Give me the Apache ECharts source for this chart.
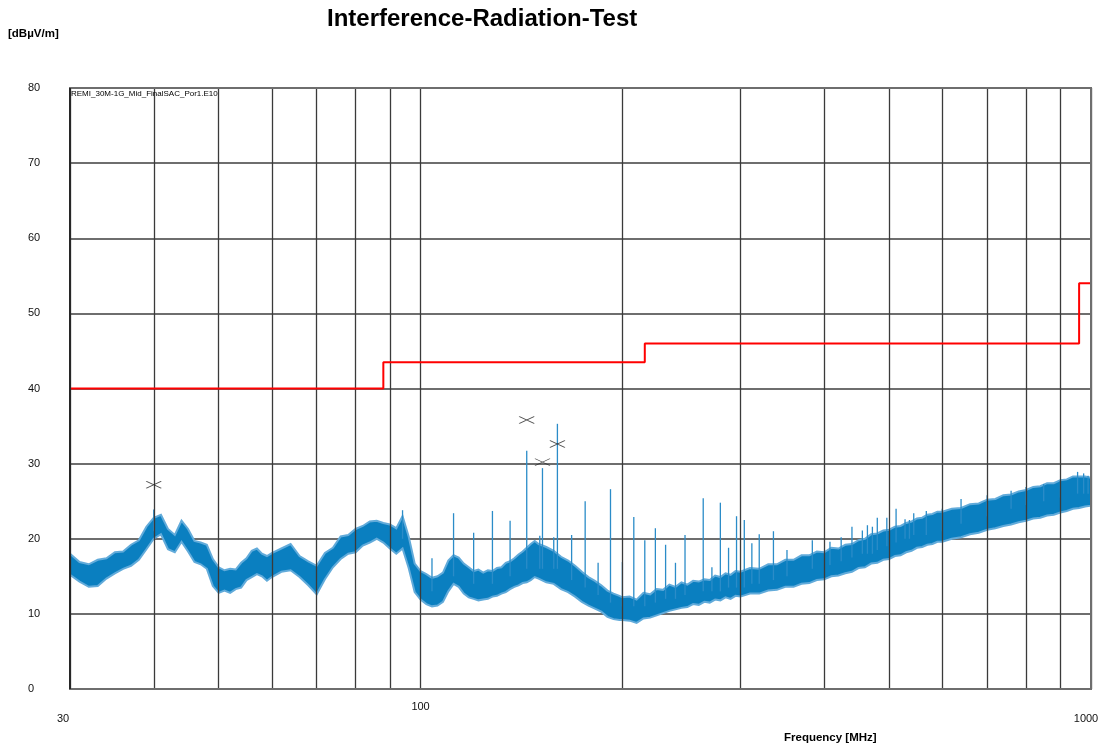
<!DOCTYPE html>
<html>
<head>
<meta charset="utf-8">
<script src="https://cdn.jsdelivr.net/npm/echarts@6/dist/echarts.min.js"></script>
<style>
  html, body { margin: 0; padding: 0; background: #ffffff; }
  #chart { width: 1109px; height: 747px; }
</style>
</head>
<body>
<div id="chart"></div>
<script>
const FONT = '"Liberation Sans", Arial, sans-serif';

// Peak scan: sweep frequency (MHz) with the lower and upper edge of the noisy trace (dBµV/m)
const bandFreq = [
  30, 31, 32, 33, 34, 35, 36, 37, 38, 39, 40, 41, 42, 43, 44, 45, 46, 47, 48, 49,
  50, 51, 52, 53, 54, 55, 56, 57, 58, 59, 60, 62, 64, 66, 68, 70, 72, 74, 76, 78,
  80, 82, 84, 86, 88, 90, 92, 94, 96, 98, 100,
  102, 104, 106, 108, 110, 112, 114, 116, 118, 120, 122, 124, 126, 128, 130, 132, 134, 136, 138, 140,
  142, 144, 146, 148, 150, 154, 158, 162, 166, 170, 174, 178, 182, 186, 190, 194, 198, 200,
  205, 210, 215, 220, 225, 230, 235, 240, 245, 250, 255, 260, 265, 270, 275, 280, 285, 290, 295, 300,
  310, 320, 330, 340, 350, 360, 370, 380, 390, 400, 410, 420, 430, 440, 450, 460, 470, 480, 490, 500,
  510, 520, 530, 540, 550, 560, 570, 580, 590, 600, 620, 640, 660, 680, 700, 720, 740, 760, 780, 800,
  820, 840, 860, 880, 900, 920, 940, 960, 980, 1000
];
const bandHigh = [
  18.0, 16.9, 16.6, 17.2, 17.4, 18.2, 18.3, 19.2, 19.8, 21.6, 22.8, 23.2, 21.3, 20.5, 22.4, 21.3, 19.7, 19.5, 19.2, 17.3,
  16.2, 15.8, 16.0, 15.9, 16.8, 17.4, 18.4, 18.7, 18.0, 17.7, 18.1, 18.7, 19.3, 17.7, 17.0, 16.4, 18.1, 18.8, 20.3, 20.5,
  21.3, 21.7, 22.3, 22.4, 22.1, 21.9, 21.4, 23.0, 20.3, 16.7, 15.7,
  15.3, 14.8, 15.0, 15.5, 17.1, 17.8, 17.5, 16.7, 16.2, 15.7, 15.9, 15.5, 15.8, 15.7, 16.1, 16.2, 16.8, 17.0, 17.4, 17.9,
  18.3, 18.8, 19.3, 19.7, 19.3, 18.9, 18.4, 17.6, 17.1, 16.4, 15.6, 14.9, 14.4, 13.8, 13.1, 12.7, 12.4, 12.2,
  12.3, 11.9, 12.8, 12.6, 13.3, 13.2, 13.9, 13.6, 14.2, 13.9, 14.4, 14.3, 14.6, 14.5, 15.1, 14.9, 15.4, 15.2, 15.7, 15.6,
  16.1, 16.0, 16.6, 16.6, 17.2, 17.2, 17.8, 17.8, 18.3, 18.2, 18.8, 18.7, 19.2, 19.3, 19.8, 20.0, 20.6, 20.7, 21.1, 21.2,
  21.6, 21.7, 22.1, 22.3, 22.7, 22.8, 23.2, 23.3, 23.6, 23.6, 24.0, 24.1, 24.6, 24.7, 25.2, 25.3, 25.8, 25.9, 26.3, 26.5,
  26.9, 27.0, 27.4, 27.4, 27.8, 27.9, 28.3, 28.3, 28.3, 28.1
];
const bandLow = [
  15.2, 14.3, 13.6, 13.7, 14.7, 15.4, 16.0, 16.4, 17.2, 18.6, 20.0, 20.6, 18.6, 18.2, 19.6, 18.3, 16.9, 16.6, 16.0, 13.7,
  12.8, 13.1, 12.8, 13.3, 13.5, 14.5, 14.9, 15.3, 15.0, 14.4, 14.9, 15.6, 15.8, 14.9, 13.8, 12.6, 14.6, 16.2, 17.3, 18.0,
  18.2, 19.1, 19.5, 20.0, 19.5, 18.7, 18.0, 18.7, 16.1, 12.9, 11.9,
  11.3, 11.0, 11.1, 11.6, 13.0, 14.0, 13.6, 12.7, 12.2, 12.0, 11.8, 11.9, 12.0, 12.3, 12.4, 12.7, 12.9, 13.3, 13.6, 13.8,
  14.1, 14.2, 14.5, 14.9, 14.7, 14.2, 14.0, 13.3, 12.9, 12.3, 11.6, 11.1, 10.7, 10.3, 9.6, 9.3, 9.2, 9.2,
  9.1, 8.8, 9.4, 9.5, 9.8, 10.1, 10.4, 10.6, 10.8, 10.9, 11.3, 11.2, 11.6, 11.5, 11.9, 11.8, 12.2, 12.0, 12.4, 12.3,
  12.7, 12.7, 13.1, 13.2, 13.6, 13.6, 14.0, 14.1, 14.5, 14.6, 15.0, 15.1, 15.4, 15.6, 16.1, 16.2, 16.7, 16.8, 17.2, 17.3,
  17.7, 17.8, 18.2, 18.4, 18.8, 18.9, 19.2, 19.3, 19.6, 19.6, 20.0, 20.2, 20.6, 20.8, 21.2, 21.4, 21.7, 21.9, 22.2, 22.4,
  22.7, 22.8, 23.1, 23.2, 23.5, 23.7, 24.0, 24.1, 24.3, 24.4
];

// Narrowband emissions (8 MHz harmonics) and noise peaks: frequency, foot and tip of each line
const spikeFreq = [
  40, 94, 104, 112, 120, 128, 136, 144, 150.6, 152, 158, 160, 168, 176, 184, 192, 200, 208, 216, 224,
  232, 240, 248, 264, 272, 280, 288, 296, 304, 312, 320, 336, 352, 384, 408, 424, 440, 456, 464, 472,
  480, 496, 512, 528, 536, 544, 568, 600, 640, 700, 760, 800, 850, 900, 955, 975, 990
];
const spikeBase = [
  21.0, 20.0, 13.0, 15.0, 14.0, 14.0, 15.0, 16.0, 16.0, 16.0, 16.0, 16.0, 14.5, 13.5, 12.5, 11.5, 11.0, 11.0, 11.0, 11.5,
  12.0, 12.0, 12.5, 13.0, 13.0, 13.0, 13.5, 13.5, 13.5, 14.0, 14.0, 14.5, 15.0, 16.0, 16.5, 17.0, 17.5, 18.0, 18.0, 18.0,
  18.5, 19.0, 19.5, 20.0, 20.0, 20.5, 20.5, 21.0, 22.0, 23.0, 24.0, 24.5, 25.0, 25.5, 26.0, 26.0, 26.0
];
const spikeTop = [
  23.9, 23.8, 17.4, 23.4, 20.8, 23.7, 22.4, 31.7, 20.4, 29.4, 20.2, 35.3, 20.5, 25.0, 16.8, 26.6, 16.9, 22.9, 19.8, 21.4,
  19.2, 16.8, 20.5, 25.4, 16.2, 24.8, 18.8, 23.0, 22.5, 19.4, 20.6, 21.0, 18.5, 19.8, 19.6, 20.2, 21.6, 21.1, 21.8, 21.6,
  22.8, 22.8, 24.0, 22.6, 22.5, 23.4, 23.7, 24.0, 25.3, 25.8, 26.4, 26.9, 27.3, 27.7, 28.9, 28.7, 28.4
];

// Final measurement markers
const markerFreq = [40, 144, 152, 160];
const markerLevel = [27.2, 35.8, 30.2, 32.6];

// Limit line
const limitFreq = [30, 88, 88, 216, 216, 960, 960, 1000];
const limitLevel = [40, 40, 43.5, 43.5, 46, 46, 54, 54];

// Axes
const freqGrid = [30, 40, 50, 60, 70, 80, 90, 100, 200, 300, 400, 500, 600, 700, 800, 900, 1000];
const freqTickLabels = ['30', '100', '1000'];
const levelMin = 0, levelMax = 80, levelStep = 10;

const TRACE = '#0a7fc0';

const chart = echarts.init(document.getElementById('chart'), null, { renderer: 'canvas' });

const option = {
  animation: false,
  backgroundColor: '#ffffff',
  title: {
    text: 'Interference-Radiation-Test',
    left: 322, top: 2,
    textStyle: { fontFamily: FONT, fontSize: 24, fontWeight: 'bold', color: '#000' }
  },
  grid: { left: 70, right: 18, top: 88, bottom: 58, show: false },
  xAxis: {
    type: 'log', logBase: 10, min: 30, max: 1000,
    axisLine: { show: false }, axisTick: { show: false },
    axisLabel: { show: false }, splitLine: { show: false }
  },
  yAxis: {
    type: 'value', min: levelMin, max: levelMax, interval: levelStep,
    axisLine: { show: false }, axisTick: { show: false },
    axisLabel: { fontFamily: FONT, fontSize: 11, color: '#111', align: 'left', margin: 42 },
    splitLine: { show: true, lineStyle: { color: '#6e6e6e', width: 2 } }
  },
  series: [
    {
      // vertical frequency grid
      type: 'line', data: [], z: 1, silent: true,
      markLine: {
        symbol: 'none', silent: true, animation: false,
        label: { show: false },
        lineStyle: { color: '#3a3a3a', width: 1.3, type: 'solid' },
        data: freqGrid.map(f => ({ xAxis: f }))
      }
    },
    {
      // noise floor band
      type: 'custom', z: 3, silent: true,
      data: [[bandFreq[0], bandLow[0]]],
      encode: { x: 0, y: 1 },
      renderItem: function (params, api) {
        const pts = [];
        for (let i = 0; i < bandFreq.length; i++) pts.push(api.coord([bandFreq[i], bandHigh[i]]));
        for (let i = bandFreq.length - 1; i >= 0; i--) pts.push(api.coord([bandFreq[i], bandLow[i]]));
        return {
          type: 'polygon',
          shape: { points: pts },
          style: { fill: TRACE, stroke: '#62abda', lineWidth: 2 }
        };
      }
    },
    {
      // narrowband lines
      type: 'custom', z: 4, silent: true,
      data: spikeFreq.map((f, i) => [f, spikeBase[i], spikeTop[i]]),
      encode: { x: 0, y: [1, 2] },
      renderItem: function (params, api) {
        const a = api.coord([api.value(0), api.value(1)]);
        const b = api.coord([api.value(0), api.value(2)]);
        return {
          type: 'line',
          shape: { x1: a[0], y1: a[1], x2: b[0], y2: b[1] },
          style: { stroke: '#2b8cc8', lineWidth: 1.3 }
        };
      }
    },
    {
      type: 'line', z: 5, silent: true,
      data: limitFreq.map((f, i) => [f, limitLevel[i]]),
      symbol: 'none',
      lineStyle: { color: '#ff0000', width: 2 }
    },
    {
      type: 'scatter', z: 6, silent: true,
      data: markerFreq.map((f, i) => [f, markerLevel[i]]),
      symbol: 'path://M0,0L16,7M0,7L16,0',
      symbolSize: [15, 7],
      itemStyle: { color: 'transparent', borderColor: '#222', borderWidth: 1 }
    }
  ]
};

chart.setOption(option);

// Axis texts placed from the axis scale
const xPix = v => chart.convertToPixel({ xAxisIndex: 0 }, v);
const yPix = v => chart.convertToPixel({ yAxisIndex: 0 }, v);
const tickLayout = { '30': [-7, 30], '100': [0, 18], '1000': [-5, 30] };
const graphics = freqTickLabels.map(t => ({
  type: 'text',
  x: xPix(Number(t)) + tickLayout[t][0],
  y: yPix(levelMin) + tickLayout[t][1],
  style: {
    text: t, fontFamily: FONT, fontSize: 11, fill: '#111',
    textAlign: 'center', textVerticalAlign: 'middle'
  }
}));
graphics.push(
  // plot frame
  {
    type: 'rect', z: 10, silent: true,
    shape: { x: xPix(30), y: yPix(levelMax), width: xPix(1000) - xPix(30), height: yPix(levelMin) - yPix(levelMax) },
    style: { fill: 'none', stroke: '#6e6e6e', lineWidth: 2 }
  },
  {
    type: 'line', z: 11, silent: true,
    shape: { x1: xPix(30), y1: yPix(levelMax), x2: xPix(30), y2: yPix(levelMin) },
    style: { stroke: '#111', lineWidth: 1.5 }
  },
  {
    type: 'text', left: 8, top: 28,
    style: { text: '[dBµV/m]', fontFamily: FONT, fontSize: 11.5, fontWeight: 'bold', fill: '#000' }
  },
  {
    type: 'text', left: 784, top: 732,
    style: { text: 'Frequency [MHz]', fontFamily: FONT, fontSize: 11.5, fontWeight: 'bold', fill: '#000' }
  },
  {
    type: 'text', z: 12, x: xPix(30) + 1, y: yPix(levelMax) + 2,
    style: { text: 'REMI_30M-1G_Mid_FinalSAC_Por1.E10', fontFamily: FONT, fontSize: 8, fill: '#000' }
  }
);
chart.setOption({ graphic: graphics });
</script>
</body>
</html>
